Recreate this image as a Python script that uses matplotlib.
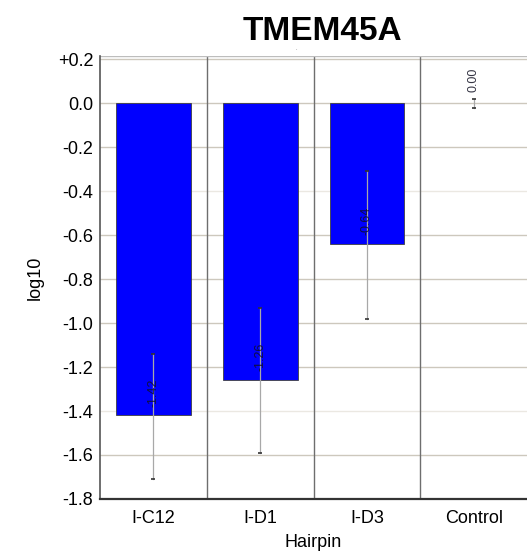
import numpy as np
import matplotlib
matplotlib.use("Agg")
import matplotlib.pyplot as plt

plt.rcParams['font.family'] = ['Liberation Sans', 'DejaVu Sans']

# data
hairpins = ["I-C12", "I-D1", "I-D3", "Control"]
means = [-1.42, -1.26, -0.64, 0.00]
err_low = [-1.71, -1.59, -0.98, -0.02]
err_high = [-1.14, -0.93, -0.31, 0.02]
mean_labels = ["-1.42", "-1.26", "-0.64", "0.00"]
yticks = [0.2, 0.0, -0.2, -0.4, -0.6, -0.8, -1.0, -1.2, -1.4, -1.6, -1.8]
ytick_labels = ["+0.2", "0.0", "-0.2", "-0.4", "-0.6", "-0.8", "-1.0",
                "-1.2", "-1.4", "-1.6", "-1.8"]

fig = plt.figure(figsize=(5.27, 5.55), dpi=100)
ax = fig.add_axes([0.19, 0.101, 0.81, 0.798])

x = np.arange(len(hairpins))

# grid
for yv in yticks[:-1]:
    c = '#ebe8e2' if yv in (-0.4, -1.4) else '#cdc8bd'
    ax.axhline(yv, color=c, lw=1.0, zorder=0)
for xv in x[:-1] + 0.5:
    ax.axvline(xv, color='#6e6e6e', lw=1.0, zorder=0)

# bars (a zero mean draws no bar)
for xi, m in zip(x, means):
    if m != 0:
        ax.bar(xi, m, width=0.7, color='#0000ff', edgecolor='#404040',
               linewidth=0.6, zorder=2)

# error bars
for xi, lo, hi in zip(x, err_low, err_high):
    ax.plot([xi, xi], [lo, hi], color='#a8a8a8', lw=0.9, zorder=3)
    ax.plot([xi, xi], [lo, hi], ls='none', marker='_', ms=3, color='#333333',
            mew=1.2, zorder=4)

# rotated mean labels
for xi, m, lab in zip(x, means, mean_labels):
    ax.text(xi, m + 0.105, lab, rotation=90, ha='center', va='center',
            fontsize=9, color='#111122', alpha=0.85, zorder=5)

ax.set_xlim(-0.5, 3.5)
ax.set_ylim(-1.8, 0.215)
ax.set_yticks(yticks)
ax.set_yticklabels(ytick_labels)
ax.set_xticks(x)
ax.set_xticklabels(hairpins)
ax.tick_params(axis='both', length=0, labelsize=13, colors='black')
ax.tick_params(axis='y', pad=5)
ax.tick_params(axis='x', pad=8)

for s in ['top', 'right']:
    ax.spines[s].set_visible(False)
ax.spines['left'].set_color('#555555')
ax.spines['bottom'].set_color('#333333')
ax.spines['bottom'].set_linewidth(1.6)
ax.spines['left'].set_linewidth(1.2)
ax.axhline(0.215, color='#bdbdbd', lw=1.0, zorder=1)

ax.set_xlabel("Hairpin", fontsize=13, labelpad=5)
ax.set_ylabel("log10", fontsize=13, labelpad=10)

fig.text(0.612, 0.943, "TMEM45A", ha='center', va='center',
         fontsize=24, fontweight='bold')
fig.text(0.563, 0.912, ".", ha='center', va='center', fontsize=4,
         color='#555555')

fig.savefig("out.png", dpi=100)
